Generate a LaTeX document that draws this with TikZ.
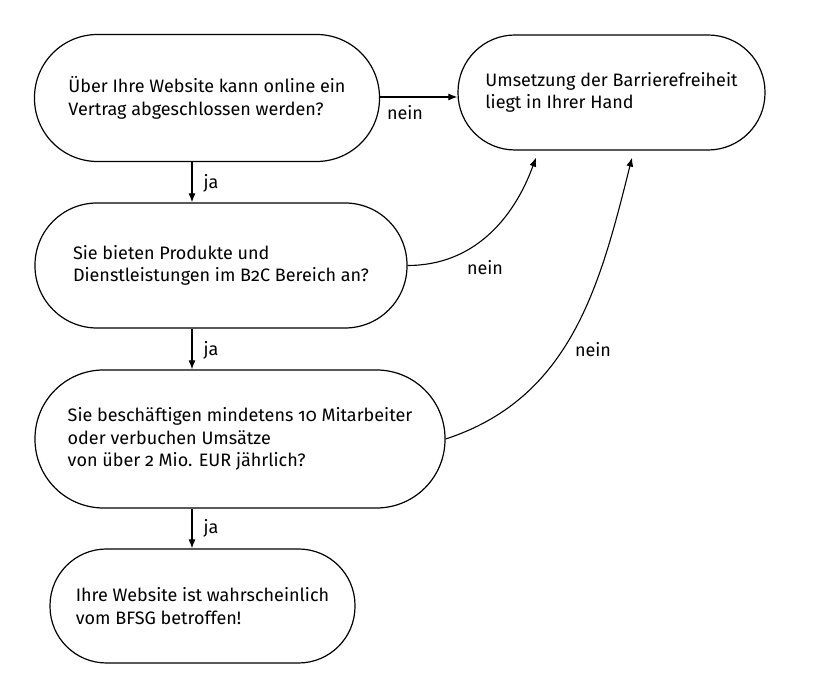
\documentclass[tikz,border=0pt]{standalone}
\usepackage{fontspec}
\setmainfont[Numbers=OldStyle]{Fira Sans}
\usepackage{tikz}
\usetikzlibrary{arrows.meta}

\tikzset{
  frage/.style n args={3}{draw, line width=1.2pt, align=left,
    minimum width=#1, minimum height=#2, rounded corners=#3,
    font=\fontsize{18}{22.5}\selectfont},
  pfeil/.style={-{Latex[length=9pt,width=7pt]}, line width=1.1pt},
  antwort/.style={font=\fontsize{18}{22.5}\selectfont}
}

\begin{document}
\begin{tikzpicture}[x=1pt,y=1pt]
\useasboundingbox (0,0) rectangle (814,695);

% Kästen
\node[frage={345pt}{127pt}{63pt}] (q1) at (207,597)
  {Über Ihre Website kann online ein\\Vertrag abgeschlossen werden?};
\node[frage={307pt}{115pt}{57pt}] (hand) at (611.5,602.5)
  {Umsetzung der Barrierefreiheit\\liegt in Ihrer Hand};
\node[frage={372pt}{125pt}{62pt}] (q2) at (221,429.5)
  {Sie bieten Produkte und\\Dienstleistungen im B2C Bereich an?};
\node[frage={410pt}{138pt}{68.5pt}] (q3) at (240,256)
  {Sie beschäftigen mindetens 10 Mitarbeiter\\oder verbuchen Umsätze\\von über 2 Mio. EUR jährlich?};
\node[frage={305pt}{114pt}{56.5pt}] (bfsg) at (202.5,89)
  {Ihre Website ist wahrscheinlich\\vom BFSG betroffen!};

% Hilfspunkte
\coordinate (spalte) at (192,0);
\coordinate (ziel1) at ([xshift=-75.5pt,yshift=-7pt]hand.south);
\coordinate (ziel2) at ([xshift=20.5pt,yshift=-7pt]hand.south);

% ja
\draw[pfeil] (q1.south -| spalte) -- (q2.north -| spalte);
\draw[pfeil] (q2.south -| spalte) -- (q3.north -| spalte);
\draw[pfeil] (q3.south -| spalte) -- (bfsg.north -| spalte);
\node[antwort] (ja1) at (211,512) {ja};
\node[antwort] (ja2) at (211,345) {ja};
\node[antwort] (ja3) at (211,167) {ja};

% nein
\draw[pfeil] ([yshift=1pt]q1.east) -- ([yshift=1pt]q1.east -| hand.west);
\draw[pfeil] (q2.east) to[out=0,in=-110] (ziel1);
\draw[pfeil] (q3.east) to[out=18,in=-104] (ziel2);
\node[antwort] (nein1) at (405,582) {nein};
\node[antwort] (nein2) at (485,427) {nein};
\node[antwort] (nein3) at (593,345) {nein};
\end{tikzpicture}
\end{document}
